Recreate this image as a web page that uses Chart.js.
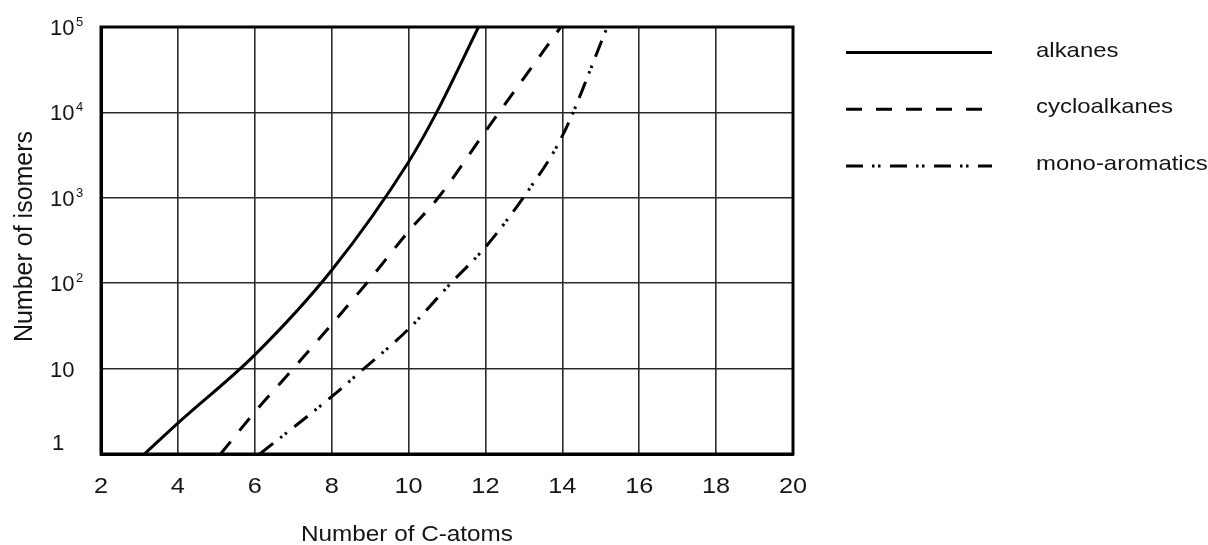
<!DOCTYPE html>
<html>
<head>
<meta charset="utf-8">
<script src="https://cdn.jsdelivr.net/npm/chart.js@4/dist/chart.umd.min.js"></script>
<style>
  html, body { margin: 0; padding: 0; background: #ffffff; }
  canvas { display: block; }
</style>
</head>
<body>
<canvas id="chart" width="1208" height="545"></canvas>
<script>
// Axis ticks
const carbonTicks = [2, 4, 6, 8, 10, 12, 14, 16, 18, 20];
const isomerTicks = [1, 10, 100, 1000, 10000, 100000];
const isomerTickBase = ['1', '10', '10', '10', '10', '10'];
const isomerTickSup = ['', '', '2', '3', '4', '5'];

// Number of isomers versus number of carbon atoms
const alkaneC = [3.13, 4, 6, 8, 10, 10.73, 11.82];
const alkaneN = [1, 2.3, 14.5, 142, 2630, 10000, 100000];

const cycloC = [5.11, 6, 7.0, 8.91, 10, 10.77, 12, 13.96];
const cycloN = [1, 3.1, 10, 100, 405, 1000, 6000, 100000];

const aromC = [6.13, 8, 8.84, 10, 11.1, 12, 12.98, 14, 15.17];
const aromN = [1, 4.7, 10, 29, 100, 265, 1000, 5300, 100000];

const seriesLabels = ['alkanes', 'cycloalkanes', 'mono-aromatics'];

const FONT = '"Liberation Sans", Arial, Helvetica, sans-serif';
const INK = '#151515';

const toPoints = (xs, ys) => xs.map((x, i) => ({ x: x, y: ys[i] }));

const lineStyles = [
  [],
  [16, 14],
  [17, 9, 2.5, 3.5, 2.5, 9.5]
];

function makeDataset(label, xs, ys, dash) {
  return {
    label: label,
    data: toPoints(xs, ys),
    borderColor: '#000000',
    borderWidth: 3,
    borderDash: dash,
    borderCapStyle: 'butt',
    pointRadius: 0,
    fill: false,
    cubicInterpolationMode: 'monotone'
  };
}

// Draws horizontally widened text
function wideText(ctx, text, x, y, sx, align) {
  ctx.save();
  ctx.translate(x, y);
  ctx.scale(sx, 1);
  ctx.textAlign = align;
  ctx.textBaseline = 'alphabetic';
  ctx.fillText(text, 0, 0);
  ctx.restore();
}

const decorations = {
  id: 'decorations',
  afterDraw(chart) {
    const ctx = chart.ctx;
    const area = chart.chartArea;
    const xs = chart.scales.x;
    const ys = chart.scales.y;

    // plot frame
    ctx.save();
    ctx.strokeStyle = '#000000';
    ctx.lineWidth = 3;
    ctx.strokeRect(area.left, area.top, area.right - area.left, area.bottom - area.top);
    ctx.restore();

    ctx.save();
    ctx.fillStyle = INK;

    // x tick labels
    ctx.font = '22px ' + FONT;
    carbonTicks.forEach(v => {
      wideText(ctx, String(v), xs.getPixelForValue(v), area.bottom + 39, 1.15, 'center');
    });

    // y tick labels with exponents
    isomerTicks.forEach((v, i) => {
      const py = ys.getPixelForValue(v);
      const base = i === 0 ? py - 4 : py + 8;
      ctx.font = '22px ' + FONT;
      ctx.textAlign = 'left';
      ctx.textBaseline = 'alphabetic';
      ctx.fillText(isomerTickBase[i], i === 0 ? 52 : 50, base);
      if (isomerTickSup[i]) {
        const w = ctx.measureText(isomerTickBase[i]).width;
        ctx.font = '13px ' + FONT;
        ctx.fillText(isomerTickSup[i], 50 + w + 1.5, base - 9);
      }
    });

    // axis titles
    ctx.font = '21.5px ' + FONT;
    wideText(ctx, 'Number of C-atoms', 407, 541, 1.13, 'center');

    ctx.save();
    ctx.translate(32, (area.top + area.bottom) / 2 - 4);
    ctx.rotate(-Math.PI / 2);
    ctx.font = '25px ' + FONT;
    ctx.textAlign = 'center';
    ctx.textBaseline = 'alphabetic';
    ctx.fillText('Number of isomers', 0, 0);
    ctx.restore();

    // legend
    const lx0 = area.right + 53;
    const lx1 = area.right + 199;
    const tx = area.right + 243;
    chart.data.datasets.forEach((ds, i) => {
      const ly = area.top + 25.6 + i * 56.7;
      ctx.save();
      ctx.strokeStyle = '#000000';
      ctx.lineWidth = 3;
      ctx.lineCap = 'butt';
      ctx.setLineDash(ds.borderDash || []);
      ctx.beginPath();
      ctx.moveTo(lx0, ly);
      ctx.lineTo(lx1, ly);
      ctx.stroke();
      ctx.restore();
      ctx.font = '21px ' + FONT;
      wideText(ctx, ds.label, tx, ly + 4, 1.14, 'left');
    });

    ctx.restore();
  }
};

new Chart(document.getElementById('chart'), {
  type: 'line',
  data: {
    datasets: [
      makeDataset(seriesLabels[0], alkaneC, alkaneN, lineStyles[0]),
      makeDataset(seriesLabels[1], cycloC, cycloN, lineStyles[1]),
      makeDataset(seriesLabels[2], aromC, aromN, lineStyles[2])
    ]
  },
  options: {
    responsive: false,
    animation: false,
    layout: { padding: { left: 101, right: 415, top: 27, bottom: 91 } },
    plugins: {
      legend: { display: false },
      tooltip: { enabled: false }
    },
    scales: {
      x: {
        type: 'linear',
        min: 2,
        max: 20,
        afterBuildTicks: scale => { scale.ticks = carbonTicks.map(v => ({ value: v })); },
        ticks: { display: false },
        grid: { color: '#2b2b2b', lineWidth: 1.6, drawTicks: false },
        border: { display: true, color: '#000000', width: 3 }
      },
      y: {
        type: 'logarithmic',
        min: 1,
        max: 100000,
        afterBuildTicks: scale => { scale.ticks = isomerTicks.map(v => ({ value: v })); },
        ticks: { display: false },
        grid: { color: '#2b2b2b', lineWidth: 1.6, drawTicks: false },
        border: { display: true, color: '#000000', width: 3 }
      }
    }
  },
  plugins: [decorations]
});
</script>
</body>
</html>
